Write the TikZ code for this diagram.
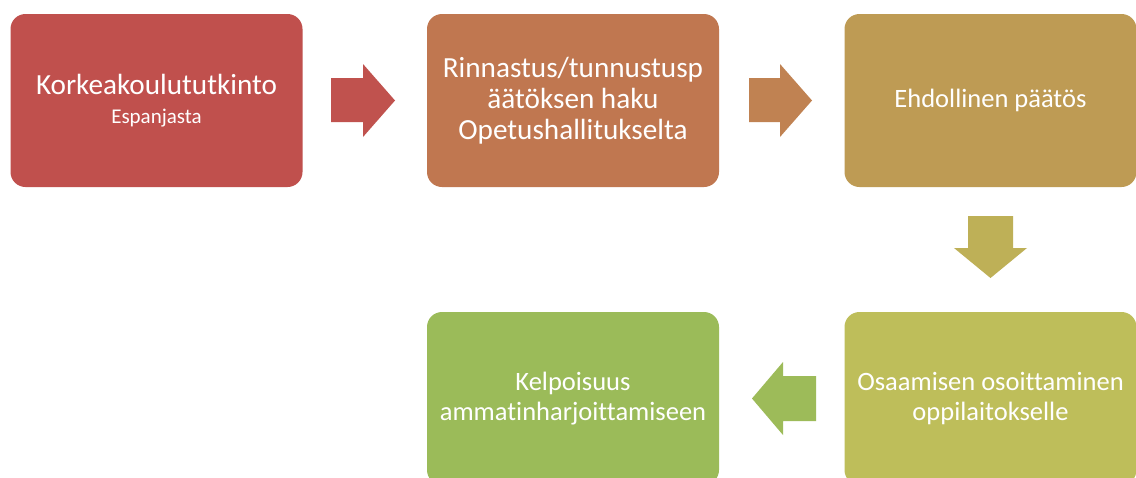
\documentclass[tikz,border=0pt]{standalone}
\usepackage{fontspec}
\setmainfont{Carlito}[Ligatures=NoCommon]
\begin{document}
\begin{tikzpicture}[x=1pt,y=-1pt,
  box/.style={rectangle,rounded corners=15pt,minimum width=292pt,minimum height=173pt,
    inner sep=0pt,text=white,align=center,font=\fontsize{26.5}{30}\selectfont},
  big/.style={font=\fontsize{29.2}{31}\selectfont}]
\definecolor{c1}{RGB}{192,80,77}
\definecolor{c2}{RGB}{192,119,80}
\definecolor{c3}{RGB}{190,155,84}
\definecolor{c4}{RGB}{190,190,90}
\definecolor{c5}{RGB}{155,187,89}
\definecolor{a1}{RGB}{192,82,78}
\definecolor{a2}{RGB}{192,130,82}
\definecolor{a3}{RGB}{190,176,87}
\definecolor{a4}{RGB}{157,187,89}
\useasboundingbox (0,0) rectangle (1136,477);
\clip (0,0) rectangle (1136,477);
\fill[white] (0,0) rectangle (1136,477);
\node[box,big,fill=c1] (b1) at (156.5,100.5) {\raisebox{1.5pt}{Korkeakoulututkinto}\\[-3pt]{\fontsize{21}{24}\selectfont Espanjasta}};
\node[box,big,fill=c2] (b2) at (573,100.5) {Rinnastus/tunnustusp\\äätöksen haku\\Opetushallitukselta};
\node[box,fill=c3] (b3) at (990.5,100.5) {Ehdollinen päätös};
\node[box,fill=c4] (b4) at (990.5,398.5) {Osaamisen osoittaminen\\oppilaitokselle};
\node[box,fill=c5] (b5) at (573,398.5) {Kelpoisuus\\ammatinharjoittamiseen};
% block arrows
\fill[a1] (331,78) -- (363,78) -- (363,64) -- (395,100.5) -- (363,137) -- (363,122) -- (331,122) -- cycle;
\fill[a2] (749,78) -- (780,78) -- (780,64) -- (812,100.5) -- (780,137) -- (780,122) -- (749,122) -- cycle;
\fill[a3] (968,216) -- (1013,216) -- (1013,248) -- (1027,248) -- (990.5,278) -- (954,248) -- (968,248) -- cycle;
\fill[a4] (816,376) -- (783,376) -- (783,362) -- (752,398.5) -- (783,435) -- (783,421) -- (816,421) -- cycle;
\end{tikzpicture}
\end{document}
